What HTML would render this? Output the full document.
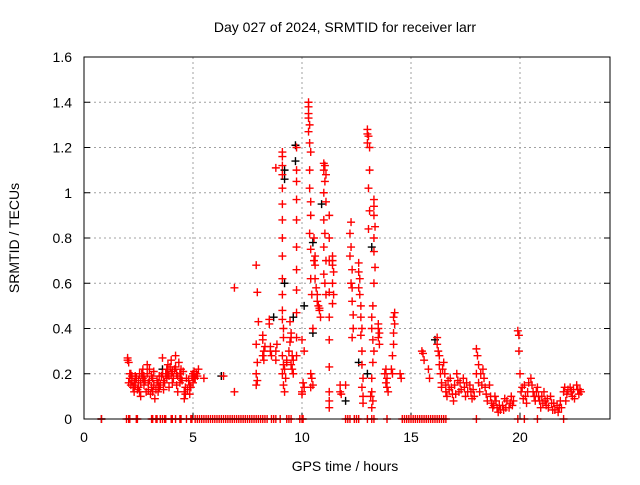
<!DOCTYPE html>
<html><head><meta charset="utf-8"><style>
body{margin:0;background:#fff;}
svg text{font-family:"Liberation Sans",sans-serif;font-size:14px;fill:#000;}
</style></head><body>
<svg id="chart" width="640" height="480">
<text x="345" y="32" text-anchor="middle">Day 027 of 2024, SRMTID for receiver larr</text>
<g id="grid"></g><g id="ticks"></g><g id="marks"></g>
<rect x="84" y="57" width="526" height="362" fill="none" stroke="#000" stroke-width="1"/>
<text x="345" y="471" text-anchor="middle">GPS time / hours</text>
<text transform="translate(19,238) rotate(-90)" text-anchor="middle">SRMTID / TECUs</text>
</svg>
<script>
const xTicks=[0,5,10,15,20];
const yTicks=[0,0.2,0.4,0.6,0.8,1,1.2,1.4,1.6];
const yTickLabels=["0","0.2","0.4","0.6","0.8","1","1.2","1.4","1.6"];
const earlyPts=[[2.0,0.27],[2.0,0.26],[2.05,0.25],[2.1,0.2],[2.1,0.18],[2.15,0.15],[2.2,0.17],[2.3,0.12],[2.3,0.16],[2.35,0.19],[2.5,0.14],[2.5,0.17],[2.55,0.2],[2.6,0.1],[2.7,0.18],[2.7,0.22],[2.75,0.15],[2.9,0.2],[2.9,0.24],[2.95,0.13],[3.0,0.17],[3.05,0.11],[3.1,0.19],[3.2,0.21],[3.2,0.15],[3.25,0.09],[3.4,0.12],[3.4,0.16],[3.45,0.19],[3.6,0.27],[3.6,0.2],[3.65,0.13],[3.8,0.18],[3.8,0.22],[3.85,0.24],[3.9,0.14],[4.0,0.26],[4.0,0.2],[4.05,0.16],[4.2,0.28],[4.2,0.23],[4.25,0.15],[4.3,0.12],[4.4,0.2],[4.4,0.16],[4.45,0.22],[4.6,0.12],[4.6,0.09],[4.65,0.14],[4.7,0.18],[4.8,0.17],[4.85,0.11],[5.0,0.2],[5.0,0.16],[5.05,0.21],[5.2,0.19],[5.25,0.22],[5.5,0.18],[6.4,0.19],[6.9,0.58],[6.9,0.12]];
const earlyExtra=[[2.2,0.19],[2.25,0.14],[2.4,0.18],[2.45,0.13],[2.6,0.16],[2.65,0.2],[2.8,0.17],[2.85,0.12],[3.0,0.22],[3.1,0.14],[3.15,0.18],[3.3,0.13],[3.35,0.17],[3.5,0.15],[3.55,0.19],[3.7,0.16],[3.75,0.2],[3.9,0.19],[3.95,0.23],[4.1,0.18],[4.15,0.22],[4.3,0.19],[4.35,0.25],[4.5,0.17],[4.55,0.21],[4.75,0.13],[4.9,0.14],[4.95,0.19],[5.1,0.18],[5.15,0.2],[2.05,0.16],[2.15,0.2],[2.35,0.15],[2.55,0.12],[2.75,0.19],[2.95,0.16],[3.15,0.12],[3.45,0.14],[3.65,0.17],[3.85,0.2],[4.05,0.21],[4.25,0.2],[4.45,0.18],[4.65,0.11],[4.85,0.15],[5.05,0.18]];
const stormPts=[[7.9,0.68],[7.95,0.56],[8.0,0.43],[7.9,0.33],[7.95,0.25],[7.9,0.2],[7.95,0.17],[7.9,0.15],[8.2,0.37],[8.2,0.35],[8.25,0.3],[8.3,0.32],[8.2,0.28],[8.25,0.26],[8.5,0.42],[8.5,0.44],[8.55,0.3],[8.6,0.28],[8.55,0.32],[8.8,0.26],[8.8,0.3],[8.85,0.33],[8.8,1.11],[9.1,1.18],[9.1,1.16],[9.1,1.12],[9.1,1.08],[9.1,1.02],[9.1,0.95],[9.1,0.88],[9.1,0.8],[9.1,0.72],[9.1,0.62],[9.1,0.55],[9.1,0.48],[9.1,0.44],[9.15,0.4],[9.15,0.36],[9.1,0.28],[9.15,0.24],[9.1,0.2],[9.15,0.15],[9.2,0.12],[9.25,0.18],[9.2,0.22],[9.3,0.25],[9.3,0.26],[9.4,0.3],[9.45,0.34],[9.5,0.38],[9.45,0.43],[9.5,0.36],[9.55,0.28],[9.5,0.24],[9.55,0.22],[9.6,0.2],[9.6,0.26],[9.75,1.2],[9.75,1.1],[9.75,1.05],[9.75,0.97],[9.75,0.88],[9.75,0.76],[9.75,0.66],[9.75,0.57],[9.75,0.47],[9.75,0.36],[9.75,0.28],[10.0,0.12],[10.05,0.16],[10.1,0.14],[10.0,0.11],[10.0,0.35],[10.1,0.3],[10.3,1.4],[10.3,1.38],[10.3,1.35],[10.3,1.33],[10.35,1.3],[10.3,1.27],[10.35,1.22],[10.4,1.18],[10.35,1.1],[10.35,1.02],[10.4,0.96],[10.4,0.9],[10.35,0.82],[10.4,0.75],[10.4,0.62],[10.45,0.55],[10.5,0.4],[10.4,0.2],[10.45,0.18],[10.5,0.15],[10.4,0.14],[10.6,0.72],[10.6,0.68],[10.6,0.62],[10.65,0.58],[10.7,0.55],[10.7,0.52],[10.75,0.5],[10.8,0.49],[10.8,0.48],[10.85,0.45],[10.55,0.7],[10.55,0.8],[11.0,1.13],[11.05,1.12],[11.0,1.1],[11.1,1.08],[11.05,1.05],[11.0,1.0],[11.1,0.96],[11.0,0.88],[11.05,0.82],[11.0,0.76],[11.1,0.7],[11.0,0.64],[11.05,0.6],[11.1,0.55],[11.25,0.9],[11.25,0.8],[11.25,0.7],[11.25,0.56],[11.25,0.45],[11.25,0.35],[11.25,0.23],[11.25,0.12],[11.25,0.08],[11.25,0.05],[11.4,0.72],[11.4,0.7],[11.4,0.68],[11.45,0.65],[11.4,0.6],[11.45,0.55],[11.4,0.51],[11.75,0.15],[11.75,0.12],[11.8,0.11],[12.0,0.15],[12.25,0.87],[12.2,0.82],[12.25,0.76],[12.2,0.72],[12.3,0.66],[12.25,0.6],[12.3,0.58],[12.3,0.52],[12.35,0.46],[12.35,0.4],[12.3,0.36],[12.6,0.69],[12.6,0.65],[12.65,0.62],[12.6,0.58],[12.65,0.55],[12.7,0.5],[12.7,0.45],[12.75,0.4],[12.7,0.37],[12.75,0.3],[12.75,0.24],[12.8,0.18],[12.75,0.14],[12.8,0.1],[12.8,0.07],[13.0,1.28],[13.0,1.26],[13.05,1.25],[13.0,1.22],[13.1,1.2],[13.1,1.1],[13.05,1.02],[13.1,0.92],[13.05,0.84],[13.3,0.97],[13.3,0.94],[13.3,0.9],[13.35,0.85],[13.3,0.8],[13.3,0.74],[13.35,0.67],[13.3,0.6],[13.25,0.5],[13.2,0.45],[13.2,0.4],[13.25,0.35],[13.3,0.3],[13.25,0.25],[13.2,0.18],[13.2,0.12],[13.25,0.08],[13.2,0.05],[13.15,0.1],[13.5,0.42],[13.5,0.4],[13.55,0.38],[13.5,0.36],[13.55,0.33],[13.8,0.2],[13.85,0.22],[13.9,0.18],[13.85,0.16],[13.9,0.14],[13.95,0.12],[14.25,0.47],[14.2,0.45],[14.25,0.42],[14.2,0.38],[14.2,0.33],[14.15,0.28],[14.1,0.22],[14.15,0.2],[14.5,0.2],[14.55,0.18]];
const latePts=[[15.5,0.3],[15.55,0.29],[15.6,0.26],[15.8,0.22],[15.85,0.18],[16.2,0.36],[16.2,0.33],[16.25,0.3],[16.3,0.28],[16.3,0.24],[16.35,0.2],[16.4,0.16],[16.4,0.14],[16.5,0.25],[16.55,0.2],[16.6,0.15],[16.6,0.12],[16.65,0.1],[16.8,0.18],[16.85,0.14],[16.9,0.11],[16.95,0.08],[17.1,0.2],[17.15,0.17],[17.2,0.12],[17.4,0.18],[17.45,0.14],[17.5,0.1],[17.7,0.15],[17.75,0.12],[17.8,0.09],[18.0,0.31],[18.05,0.28],[18.1,0.24],[18.0,0.2],[18.1,0.16],[18.15,0.12],[18.3,0.22],[18.35,0.18],[18.4,0.14],[18.6,0.15],[18.65,0.1],[18.7,0.07],[18.75,0.05],[18.9,0.08],[18.95,0.05],[19.0,0.03],[19.2,0.06],[19.25,0.04],[19.3,0.09],[19.5,0.05],[19.55,0.07],[19.6,0.1],[19.9,0.39],[19.95,0.37],[19.95,0.3],[20.0,0.2],[20.05,0.12],[20.2,0.15],[20.25,0.1],[20.3,0.07],[20.5,0.18],[20.55,0.15],[20.6,0.12],[20.65,0.1],[20.8,0.14],[20.85,0.1],[20.9,0.08],[20.95,0.05],[21.1,0.12],[21.15,0.08],[21.2,0.06],[21.4,0.1],[21.45,0.07],[21.5,0.04],[21.7,0.06],[21.75,0.03],[21.8,0.05],[22.0,0.12],[22.05,0.14],[22.1,0.08],[22.3,0.14],[22.35,0.12],[22.4,0.1],[22.6,0.15],[22.65,0.13],[22.7,0.11]];
const lateExtra=[[16.45,0.22],[16.7,0.17],[16.75,0.13],[17.0,0.15],[17.05,0.11],[17.25,0.16],[17.3,0.13],[17.55,0.16],[17.6,0.12],[17.85,0.13],[17.9,0.1],[18.2,0.2],[18.25,0.15],[18.45,0.11],[18.5,0.08],[18.8,0.06],[18.85,0.1],[19.05,0.06],[19.1,0.04],[19.35,0.05],[19.4,0.08],[19.65,0.06],[19.7,0.08],[20.1,0.14],[20.15,0.09],[20.35,0.12],[20.4,0.16],[20.7,0.08],[20.75,0.12],[21.0,0.1],[21.05,0.07],[21.25,0.09],[21.3,0.05],[21.55,0.07],[21.6,0.04],[21.85,0.08],[21.9,0.05],[22.15,0.11],[22.2,0.13],[22.45,0.13],[22.5,0.09],[22.75,0.13],[22.8,0.12]];
const zeroTimes=[0.8,1.95,2.05,2.1,2.4,2.45,3.1,3.15,3.3,3.35,3.5,3.6,3.7,3.75,4.0,4.05,4.2,4.4,4.45,4.7,4.9,4.95,5.1,5.2,5.3,5.4,5.5,5.6,5.7,5.8,5.9,6.0,6.1,6.2,6.3,6.4,6.5,6.6,6.7,6.8,6.9,7.0,7.1,7.2,7.3,7.4,7.5,7.6,7.7,7.8,7.9,8.0,8.1,8.2,8.3,8.4,8.6,8.7,8.8,9.0,9.3,9.4,9.5,9.9,10.0,10.05,12.0,12.1,12.2,12.4,12.5,12.6,13.0,13.2,13.3,13.9,14.6,14.7,14.8,14.9,15.0,15.1,15.2,15.3,15.4,15.5,15.6,15.7,15.8,15.9,16.0,16.1,16.2,16.3,16.4,16.5,16.6,18.0,19.9,20.2,20.8,22.0];
const blackPts=[[0.8,0],[9.2,0.6],[9.6,0.45],[9.7,1.21],[9.7,1.14],[10.5,0.78],[10.5,0.38],[10.9,0.95],[12.0,0.08],[13.0,0.2],[13.2,0.76],[3.6,0.22],[6.3,0.19],[9.2,1.1],[9.2,1.06],[8.7,0.45],[10.1,0.5],[12.6,0.25],[16.1,0.35]];

const NS="http://www.w3.org/2000/svg";
const X=t=>84+t*21.8;
const Y=v=>419-v*226.25;
const grid=document.getElementById('grid'),ticks=document.getElementById('ticks'),marks=document.getElementById('marks');
function mk(tag,attrs,parent){const e=document.createElementNS(NS,tag);for(const k in attrs)e.setAttribute(k,attrs[k]);parent.appendChild(e);return e;}
xTicks.forEach(t=>{
  if(t>0){const g=mk('line',{x1:X(t),x2:X(t),y1:57,y2:419,stroke:'#a0a0a0','stroke-dasharray':'2,3'},grid);
  
  }
  mk('line',{x1:X(t),x2:X(t),y1:419,y2:413,stroke:'#000'},ticks);
  const l=mk('text',{x:X(t),y:442,'text-anchor':'middle'},ticks);l.textContent=t;
  
  
});
yTicks.forEach((v,i)=>{
  if(v>0&&v<1.6){const g=mk('line',{x1:84,x2:610,y1:Y(v),y2:Y(v),stroke:'#a0a0a0','stroke-dasharray':'2,3'},grid);
  
  }
  mk('line',{x1:84,x2:90,y1:Y(v),y2:Y(v),stroke:'#000'},ticks);
  mk('line',{x1:610,x2:604,y1:Y(v),y2:Y(v),stroke:'#000'},ticks);
  const l=mk('text',{x:72,y:Y(v)+5,'text-anchor':'end'},ticks);l.textContent=yTickLabels[i];
  
  
});
function plus(t,v,color,name){
  const x=X(t),y=Y(v);
  const p=mk('path',{d:`M${x-4},${y}H${x+4}M${x},${y-4}V${y+4}`,stroke:color,'stroke-width':1.4,fill:'none'},marks);
  
  
}
blackPts.forEach(p=>plus(p[0],p[1],'#000','black-point'));
earlyPts.concat(earlyExtra,stormPts,latePts,lateExtra).forEach(p=>plus(p[0],p[1],'#ff0000','srmtid-point'));
zeroTimes.forEach(t=>plus(t,0,'#ff0000','zero-point'));
</script>
</body></html>
